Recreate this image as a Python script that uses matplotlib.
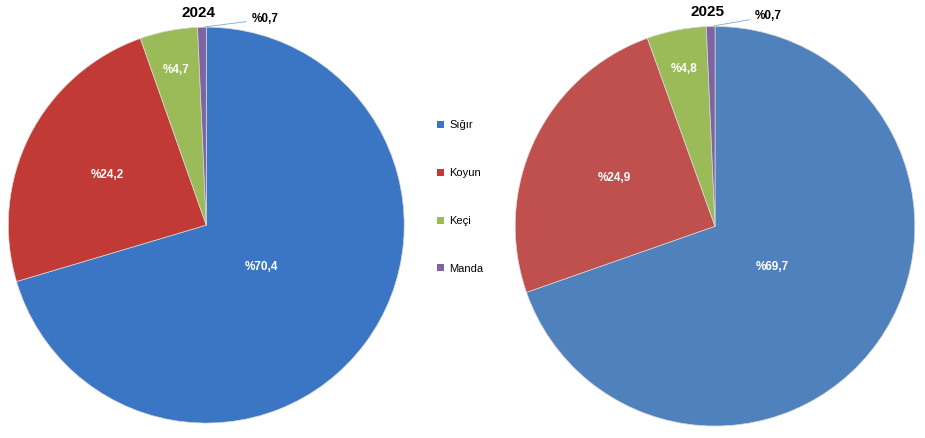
import matplotlib.pyplot as plt
import numpy as np

categories = ['Sığır', 'Koyun', 'Keçi', 'Manda']
values_2024 = [70.4, 24.2, 4.7, 0.7]
values_2025 = [69.7, 24.9, 4.8, 0.7]
labels_2024 = ['%70,4', '%24,2', '%4,7', '%0,7']
labels_2025 = ['%69,7', '%24,9', '%4,8', '%0,7']
colors_2024 = ['#3b76c4', '#c23a35', '#9bbb59', '#8064a2']
colors_2025 = ['#4f81bd', '#c0504d', '#9bbb59', '#8064a2']

plt.rcParams['font.family'] = ['Liberation Sans', 'DejaVu Sans']
fig = plt.figure(figsize=(9.25, 4.38), dpi=100)

def draw(rect, vals, labs, cols, title, outpos):
    ax = fig.add_axes(rect)
    wedges, _ = ax.pie(vals, colors=cols, startangle=90, counterclock=False,
                       wedgeprops=dict(edgecolor='#d8d8d8', linewidth=0.5))
    dists = [0.35, 0.56, 0.8]
    for w, lab, d in zip(wedges[:3], labs[:3], dists):
        a = np.deg2rad((w.theta1 + w.theta2) / 2)
        ax.text(d*np.cos(a), d*np.sin(a), lab, color='white', fontsize=8.5,
                fontweight='bold', ha='center', va='center')
    w = wedges[3]
    a = np.deg2rad((w.theta1 + w.theta2) / 2)
    ax.annotate(labs[3], xy=(np.cos(a), np.sin(a)), xytext=outpos,
                fontsize=8.5, fontweight='bold', ha='left', va='center',
                arrowprops=dict(arrowstyle='-', color='#7fa7d6', lw=0.6))
    ax.text(-0.04, 1.07, title, fontsize=11, fontweight='bold', ha='center', va='center')
    ax.set_xlim(-1, 1); ax.set_ylim(-1, 1)
    ax.set_aspect('equal')
    ax.axis('off')
    return wedges

wl = draw([0.009, 0.034, 0.428, 0.904], values_2024, labels_2024, colors_2024, '2024', (0.23, 1.04))
wr = draw([0.557, 0.027, 0.432, 0.913], values_2025, labels_2025, colors_2025, '2025', (0.2, 1.05))

from matplotlib.patches import Patch
handles = [Patch(facecolor=c) for c in colors_2024]
fig.legend(handles, categories, loc='center left', bbox_to_anchor=(0.462, 0.55),
           frameon=False, fontsize=8, handlelength=0.6, handleheight=0.6,
           labelspacing=3.4, handletextpad=0.5)
fig.savefig('out.png', dpi=100)
